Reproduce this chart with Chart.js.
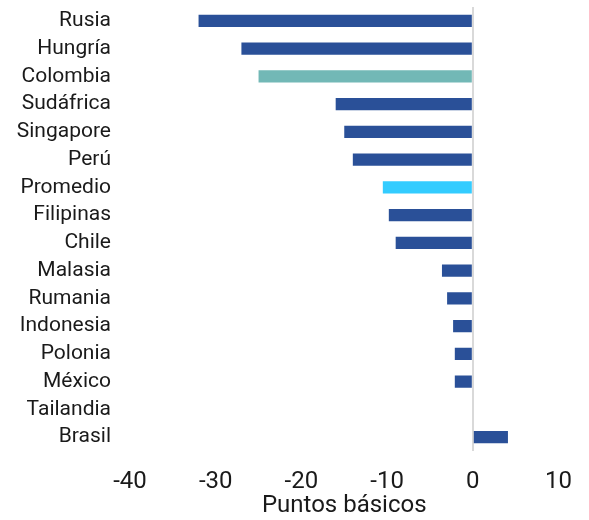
<!DOCTYPE html>
<html>
<head>
<meta charset="utf-8">
<script src="https://cdn.jsdelivr.net/npm/chart.js@4.4.0/dist/chart.umd.min.js"></script>
<style>
  body { margin: 0; background: #fff; }
  #wrap { width: 589px; height: 520px; position: relative; }
</style>
</head>
<body>
<div id="wrap"><canvas id="myChart"></canvas></div>
<script>
// Datos del gráfico
let countries = ['Rusia', 'Hungría', 'Colombia', 'Sudáfrica', 'Singapore', 'Perú', 'Promedio', 'Filipinas',
    'Chile', 'Malasia', 'Rumania', 'Indonesia', 'Polonia', 'México', 'Tailandia', 'Brasil'];
let changeBp = [-32, -27, -25, -16, -15, -14, -10.5, -9.8, -9, -3.6, -3, -2.3, -2.1, -2.1, 0, 4.1];
let xTicks = [-40, -30, -20, -10, 0, 10];

// Colores: Colombia y Promedio resaltados
let barColors = countries.map(function (c) {
    if (c === 'Colombia') return '#72B8B6';
    if (c === 'Promedio') return '#33CCFF';
    return '#2A5098';
});

let ctx = document.getElementById('myChart').getContext('2d');
let myChart = new Chart(ctx, {
    type: 'bar',
    data: {
        labels: countries,
        datasets: [{
            data: changeBp,
            backgroundColor: barColors,
            borderWidth: 0,
            barPercentage: 0.88,
            categoryPercentage: 0.5
        }]
    },
    options: {
        indexAxis: 'y',
        responsive: true,
        maintainAspectRatio: false,
        animation: false,
        layout: { padding: { top: 7, right: 27, bottom: 0, left: 0 } },
        plugins: {
            legend: { display: false },
            tooltip: { enabled: false }
        },
        scales: {
            x: {
                min: -40,
                max: 10,
                afterBuildTicks: function (axis) {
                    axis.ticks = xTicks.map(function (v) { return { value: v }; });
                },
                afterFit: function (axis) { axis.height = 69; },
                border: { display: false },
                grid: {
                    drawTicks: false,
                    lineWidth: 2,
                    color: function (c) { return c.tick && c.tick.value === 0 ? '#d9d9d9' : 'rgba(0,0,0,0)'; }
                },
                ticks: {
                    padding: 17,
                    color: '#1a1a1a',
                    font: { family: 'Roboto', size: 24 }
                },
                title: {
                    display: true,
                    text: 'Puntos básicos',
                    color: '#1a1a1a',
                    font: { family: 'Roboto', size: 24 },
                    padding: { top: 0, bottom: 0 }
                }
            },
            y: {
                afterFit: function (axis) { axis.width = 130; },
                border: { display: false },
                // marcas invisibles: solo separan las etiquetas de las barras
                grid: { drawOnChartArea: false, drawTicks: true, tickLength: 19, color: 'rgba(0,0,0,0)' },
                ticks: {
                    autoSkip: false,
                    padding: 0,
                    color: '#1a1a1a',
                    font: { family: 'Roboto', size: 21, lineHeight: 0.5 }
                }
            }
        }
    }
});
</script>
</body>
</html>
